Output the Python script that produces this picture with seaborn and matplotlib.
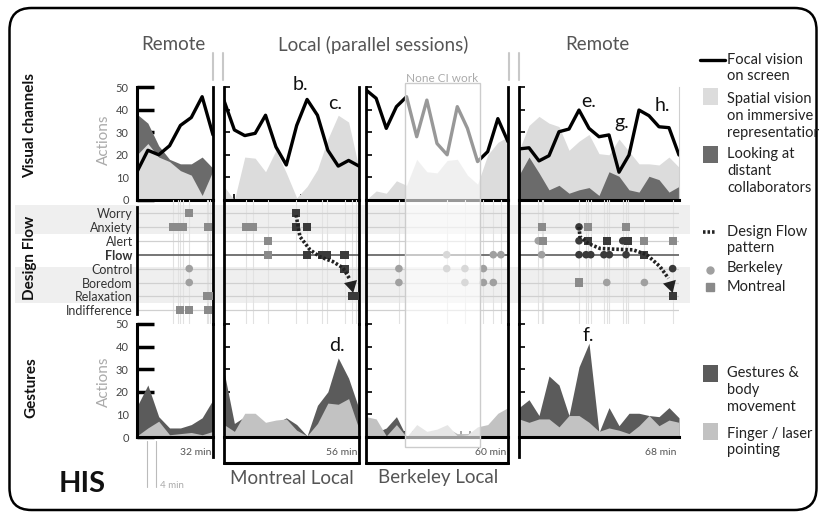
import numpy as np
import pandas as pd
import matplotlib
matplotlib.use("Agg")
import matplotlib.pyplot as plt
import seaborn as sns
from matplotlib.patches import Rectangle, FancyBboxPatch
from matplotlib.lines import Line2D

# ------------------------------------------------------------------ data
states = ["Worry", "Anxiety", "Alert", "Flow", "Control", "Boredom", "Relaxation", "Indifference"]
session_minutes = [32, 56, 60, 68]
duration_labels = ["32 min", "56 min", "60 min", "68 min"]
headers = ["Remote", "Local (parallel sessions)", "Remote"]
local_labels = ["Montreal Local", "Berkeley Local"]

# Visual channels (actions per interval)
focal_r1 = [12.5, 22, 20, 24, 33, 36.5, 45.7, 28.8]
spatial_r1 = [20, 25, 19, 17, 13, 11, 2, 13]
distant_r1 = [38, 34, 24, 18, 16, 16, 19, 14]

focal_ml = [44, 31, 28.5, 29.5, 37.5, 23.5, 15.5, 33, 44.5, 37.5, 22, 15, 17.5, 15]
spatial_ml = [6, 0, 19, 18.5, 12.5, 22, 12, 1, 6, 13.5, 27, 37.5, 34.5, 14]
distant_ml = [0, 0, 0, 0, 0, 0, 0, 0, 0, 0, 0, 0, 0, 0]

focal_bl = [48.7, 45, 31.7, 41.3, 45.7, 28, 44.2, 25, 20, 41.3, 31.7, 17, 21.4, 36, 25.8]
spatial_bl = [0, 4, 3, 8.5, 6.5, 18, 12.5, 12, 17.5, 18, 11, 7, 20, 25.5, 28]
distant_bl = [0, 0, 0, 0, 0, 0, 0, 0, 0, 0, 0, 0, 0, 0, 0]

focal_r2 = [22.6, 23.1, 17.3, 19.6, 30.2, 31.4, 39.8, 31.7, 28, 28.8, 12.3, 19.9, 39.8, 37.3, 32.4, 32, 19.9]
spatial_r2 = [22, 33, 37, 34, 32.5, 22, 26, 29, 20.5, 20, 27, 21.5, 16, 16, 15.5, 19, 14.5]
distant_r2 = [11, 19, 12, 4.5, 6.5, 3, 4.5, 5.5, 2, 12.5, 10.5, 4.5, 3.5, 10.5, 9, 3.5, 6]

# Gestures (actions per interval)
gest_r1 = [13.5, 23, 9, 4, 4, 5.5, 8.5, 16.5]
point_r1 = [0.5, 4, 7, 1, 1.5, 2, 1, 2.5]
gest_ml = [29, 6, 9, 9, 5, 6, 8.5, 5.5, 0.5, 14, 20, 35, 26, 12.5]
point_ml = [5.5, 2.5, 10.5, 10.5, 6.5, 7.5, 8, 3, 0.5, 6, 15, 14.5, 17, 3.5]
gest_bl = [6, 2, 4, 9, 0, 3, 2, 2, 4, 1.5, 1.5, 3, 4, 8, 10]
point_bl = [9, 8, 0.5, 5.5, 0, 5.5, 2.5, 3.5, 5.5, 0.5, 1, 4.5, 5.5, 10.5, 13]
gest_r2 = [13, 16.5, 9.5, 27, 23, 9.5, 31, 41.5, 2, 13, 5, 10.5, 10.5, 9.5, 9, 13, 8.5]
point_r2 = [8, 6.5, 8, 8, 4.5, 9.5, 9.5, 6.5, 2.5, 4, 3, 1.5, 5, 9.5, 5, 7.5, 6.5]

# Design flow events: (minute, state, site, part of design-flow pattern)
flow_r1 = [(22, "Worry", "Montreal", 0),
           (15.3, "Anxiety", "Montreal", 0), (17.4, "Anxiety", "Montreal", 0), (19.2, "Anxiety", "Montreal", 0),
           (30, "Anxiety", "Montreal", 0),
           (22, "Control", "Berkeley", 0), (22, "Boredom", "Berkeley", 0),
           (29.3, "Relaxation", "Montreal", 0), (30.7, "Relaxation", "Montreal", 0),
           (18.1, "Indifference", "Montreal", 0), (22, "Indifference", "Montreal", 0), (30, "Indifference", "Montreal", 0)]
flow_ml = [(29.9, "Worry", "Montreal", 1),
           (9.1, "Anxiety", "Montreal", 0), (11.9, "Anxiety", "Montreal", 0),
           (29.9, "Anxiety", "Montreal", 1), (34.3, "Anxiety", "Montreal", 1),
           (18.4, "Alert", "Montreal", 0),
           (18.4, "Flow", "Montreal", 0), (34.3, "Flow", "Montreal", 1), (40.5, "Flow", "Montreal", 1),
           (42.6, "Flow", "Montreal", 1), (50, "Flow", "Montreal", 1),
           (50, "Control", "Montreal", 1),
           (53.0, "Relaxation", "Montreal", 1), (54.6, "Relaxation", "Montreal", 1)]
flow_bl = [(34.1, "Flow", "Berkeley", 0), (53.8, "Flow", "Berkeley", 0), (57.0, "Flow", "Berkeley", 0),
           (13.9, "Control", "Berkeley", 0), (34.1, "Control", "Berkeley", 0), (41.8, "Control", "Berkeley", 0),
           (49.6, "Control", "Berkeley", 0),
           (13.9, "Boredom", "Berkeley", 0), (41.8, "Boredom", "Berkeley", 0), (49.6, "Boredom", "Berkeley", 0),
           (53.8, "Boredom", "Berkeley", 0)]
flow_r2 = [(9.6, "Anxiety", "Montreal", 0), (25.5, "Anxiety", "Berkeley", 1), (29.5, "Anxiety", "Montreal", 0),
           (45.5, "Anxiety", "Montreal", 0),
           (8.2, "Alert", "Berkeley", 0), (10.3, "Alert", "Montreal", 0), (25.5, "Alert", "Berkeley", 1),
           (29.5, "Alert", "Montreal", 1), (37.3, "Alert", "Montreal", 1), (44.1, "Alert", "Berkeley", 1),
           (46.5, "Alert", "Montreal", 1), (53.3, "Alert", "Montreal", 0), (65.3, "Alert", "Montreal", 0),
           (9.6, "Flow", "Berkeley", 0), (25.5, "Flow", "Berkeley", 1), (28.5, "Flow", "Berkeley", 1),
           (30.5, "Flow", "Berkeley", 1), (36.1, "Flow", "Berkeley", 1), (38.4, "Flow", "Berkeley", 1),
           (45.5, "Flow", "Berkeley", 1), (53.3, "Flow", "Montreal", 1),
           (65.3, "Control", "Berkeley", 1),
           (25.5, "Boredom", "Montreal", 0), (37.3, "Boredom", "Berkeley", 0), (53.3, "Boredom", "Berkeley", 0),
           (65.3, "Relaxation", "Montreal", 1)]

# Design-flow pattern paths (minute, state row)
pattern_ml_min = [29.9, 31.5, 35.7, 39.8, 45.2, 49.4, 52.3, 53.6]
pattern_ml_row = [0.15, 1.7, 2.65, 3.15, 3.5, 3.95, 4.8, 5.75]
pattern_r2_min = [25.5, 25.9, 29.5, 34.4, 40.0, 48.5, 54.3, 59.9, 63.5, 65.3]
pattern_r2_row = [1.0, 1.7, 2.2, 2.55, 2.6, 2.65, 3.0, 3.85, 4.7, 5.75]

none_ci_span = (16.5, 48.2)   # Berkeley minutes of "None CI work"

# callouts: (session index, row ('vis'/'ges'), minute, value, text)
callouts = [(1, "vis", 31.5, 51, "b."), (1, "vis", 46, 42.5, "c."), (1, "ges", 47, 40.7, "d."),
            (3, "vis", 29.8, 43.8, "e."), (3, "ges", 29.3, 45, "f."), (3, "vis", 43.6, 34.5, "g."),
            (3, "vis", 61, 41.6, "h.")]

sessions = [
    dict(T=32, focal=focal_r1, spatial=spatial_r1, distant=distant_r1, gest=gest_r1, point=point_r1, flow=flow_r1),
    dict(T=56, focal=focal_ml, spatial=spatial_ml, distant=distant_ml, gest=gest_ml, point=point_ml, flow=flow_ml),
    dict(T=60, focal=focal_bl, spatial=spatial_bl, distant=distant_bl, gest=gest_bl, point=point_bl, flow=flow_bl),
    dict(T=68, focal=focal_r2, spatial=spatial_r2, distant=distant_r2, gest=gest_r2, point=point_r2, flow=flow_r2),
]

# ------------------------------------------------------------------ style
sns.set_theme(style="white")
plt.rcParams["font.family"] = ["Lato", "DejaVu Sans"]

C_SPATIAL = "#dcdcdc"
C_DISTANT = "#6b6b6b"
C_GEST = "#5b5b5b"
C_POINT = "#c2c2c2"
C_MED_SQ = "#8a8a8a"
C_MED_CI = "#a0a0a0"
C_DARK = "#3a3a3a"
C_TXT = "#555555"

W, H = 820, 518
fig = plt.figure(figsize=(W / 100, H / 100), dpi=100)


def rect(x0, x1, ytop, ybot):
    return [x0 / W, 1 - ybot / H, (x1 - x0) / W, (ybot - ytop) / H]


def fx(px):
    return px / W


def fy(py):
    return 1 - py / H


cols_px = [(137, 213), (224, 359), (366, 508), (519, 679)]
VIS_TOP, VIS_BOT = 87, 200
FLOW_BOT = 324
GES_ZERO = 437
ges_bottom = [457, 463, 463, 457]
ROW_PX = 13.9


def overlap_fill(ax, x, dark, light, cd, cl, smaller_front=True):
    d = np.asarray(dark, float)
    l = np.asarray(light, float)
    ax.fill_between(x, 0, d, color=cd, lw=0)
    ax.fill_between(x, 0, l, color=cl, lw=0)
    if smaller_front:
        ax.fill_between(x, 0, d, where=d <= l, interpolate=True, color=cd, lw=0)


ax_vis, ax_flow, ax_ges = [], [], []
for ci, (sess, (x0, x1)) in enumerate(zip(sessions, cols_px)):
    T = sess["T"]
    # ---------------- visual channels
    av = fig.add_axes(rect(x0, x1, VIS_TOP, VIS_BOT))
    xv = np.linspace(0, T, len(sess["focal"]))
    overlap_fill(av, xv, sess["distant"], sess["spatial"], C_DISTANT, C_SPATIAL, True)
    sns.lineplot(x=xv, y=sess["focal"], ax=av, color="black", lw=2.4)
    av.set_xlim(0, T)
    av.set_ylim(0, 50)
    av.set(xlabel="", ylabel="")
    av.set_xticks(np.arange(4, T, 4))
    av.set_xticklabels([])
    av.tick_params(axis="x", direction="in", length=4, width=1.2, color="black", bottom=True)
    for s in av.spines.values():
        s.set_visible(False)
    av.spines["bottom"].set_visible(True)
    av.spines["bottom"].set_linewidth(2.2)
    av.spines["bottom"].set_color("black")
    av.spines["left"].set_visible(True)
    av.spines["left"].set_linewidth(2 if ci != 0 else 2.2)
    av.spines["left"].set_color("black")
    if ci in (0, 1, 2):
        av.spines["right"].set_visible(True)
        av.spines["right"].set_linewidth(2)
        av.spines["right"].set_color("black")
    else:
        av.spines["right"].set_visible(True)
        av.spines["right"].set_linewidth(0.8)
        av.spines["right"].set_color("#cfcfcf")
    av.set_yticks([0, 10, 20, 30, 40, 50])
    if ci == 0:
        av.tick_params(axis="y", direction="in", length=12, width=2.5, color="black", left=True,
                       labelsize=8, labelcolor="#444", pad=6)
    else:
        av.tick_params(axis="y", direction="in", length=4, width=1.2, color="black", left=True, labelleft=False)
    av.patch.set_alpha(0)
    ax_vis.append(av)

    # ---------------- design flow
    af = fig.add_axes(rect(x0, x1, VIS_BOT, FLOW_BOT))
    af.patch.set_alpha(0)
    df = pd.DataFrame(sess["flow"], columns=["minute", "state", "site", "pattern"])
    df["row"] = df["state"].map({s: i for i, s in enumerate(states)})
    for xm in sorted(df["minute"].unique()):
        af.axvline(xm, color="#e2e2e2", lw=0.8, zorder=0.2)
    for i, s in enumerate(states):
        if s == "Flow":
            af.axhline(i, color="#6a6a6a", lw=1.3, zorder=0.5)
        else:
            af.axhline(i, color="#d0d0d0", lw=0.9, zorder=0.5)
    for (site, pat), sub in df.groupby(["site", "pattern"]):
        if site == "Berkeley":
            mk, sz, col = "o", 30, (C_DARK if pat else C_MED_CI)
        else:
            mk, sz, col = "s", 34, (C_DARK if pat else C_MED_SQ)
        sns.scatterplot(data=sub, x="minute", y="row", ax=af, marker=mk, s=sz, color=col,
                        edgecolor="none", legend=False, zorder=3)
    af.set_xlim(0, T)
    af.set_ylim(7 + (FLOW_BOT - VIS_BOT - 13 - 7 * ROW_PX) / ROW_PX, -13 / ROW_PX)
    af.set(xlabel="", ylabel="")
    af.set_xticks([])
    for s in af.spines.values():
        s.set_visible(False)
    if ci == 0:
        af.set_yticks(range(len(states)))
        af.set_yticklabels(states)
        af.tick_params(axis="y", length=0, labelsize=9, labelcolor="#333", pad=3)
        for lab in af.get_yticklabels():
            if lab.get_text() == "Flow":
                lab.set_fontweight("bold")
        af.spines["left"].set_visible(True)
        af.spines["left"].set_bounds(7.25, -0.4)
        af.spines["left"].set_linewidth(2)
        af.spines["left"].set_color("black")
    else:
        af.set_yticks([])
        af.spines["left"].set_visible(True)
        af.spines["left"].set_linewidth(2)
        af.spines["left"].set_color("black")
    if ci in (0, 1, 2):
        af.spines["right"].set_visible(True)
        af.spines["right"].set_linewidth(2)
        af.spines["right"].set_color("black")
    ax_flow.append(af)

    # ---------------- gestures
    ag = fig.add_axes(rect(x0, x1, FLOW_BOT, ges_bottom[ci]))
    xg = np.linspace(0, T, len(sess["gest"]))
    overlap_fill(ag, xg, sess["gest"], sess["point"], C_GEST, C_POINT, False)
    ag.set_xlim(0, T)
    ag.set_ylim(-(ges_bottom[ci] - GES_ZERO) / (GES_ZERO - FLOW_BOT) * 50, 50)
    ag.set_xticks(np.arange(4, T, 4))
    ag.set_xticklabels([])
    for s in ag.spines.values():
        s.set_visible(False)
    ag.spines["bottom"].set_visible(True)
    ag.spines["bottom"].set_position(("data", 0))
    ag.spines["bottom"].set_linewidth(2.2)
    ag.spines["bottom"].set_color("black")
    ag.tick_params(axis="x", direction="in", length=4, width=1.2, color="black", bottom=True)
    ag.spines["left"].set_visible(True)
    ag.spines["left"].set_color("black")
    ag.spines["left"].set_linewidth(2 if ci != 0 else 2.2)
    ag.set_yticks([0, 10, 20, 30, 40, 50])
    if ci == 0:
        ag.spines["left"].set_bounds(0, 50)
        ag.tick_params(axis="y", direction="in", length=12, width=2.5, color="black", left=True,
                       labelsize=8, labelcolor="#444", pad=6)
    else:
        ag.tick_params(axis="y", direction="in", length=4, width=1.2, color="black", left=True, labelleft=False)
    if ci in (0, 1, 2):
        ag.spines["right"].set_visible(True)
        ag.spines["right"].set_linewidth(2)
        ag.spines["right"].set_color("black")
    if ci in (1, 2):
        ag.plot([0, 1], [0, 0], transform=ag.transAxes, color="black", lw=2.2, clip_on=False)
    ag.text(T * 0.985, -7.0, duration_labels[ci], ha="right", va="center", fontsize=7.5, color="#555",
            family=["Liberation Sans Narrow", "Lato", "DejaVu Sans"])
    ag.patch.set_alpha(0)
    ax_ges.append(ag)

# ---------------- design flow patterns (dotted arrows)
for ax, pm, pr in [(ax_flow[1], pattern_ml_min, pattern_ml_row), (ax_flow[3], pattern_r2_min, pattern_r2_row)]:
    ax.plot(pm[:-1], pr[:-1], color="#222", lw=2.6, ls=(0, (0.7, 0.55)), zorder=4, solid_capstyle="butt")
    ax.annotate("", xy=(pm[-1], pr[-1]), xytext=(pm[-2], pr[-2]),
                arrowprops=dict(arrowstyle="-|>,head_length=0.7,head_width=0.4", color="#222", lw=0,
                                shrinkA=0, shrinkB=0), zorder=5)

# ---------------- callouts
for si, row, m, v, t in callouts:
    ax = ax_vis[si] if row == "vis" else ax_ges[si]
    ax.text(m, v, t, ha="center", va="center", fontsize=14, color="#111", clip_on=False, zorder=6)

# ---------------- grey bands behind design flow rows
fig.canvas.draw()
inv = fig.transFigure.inverted()
for r0, r1 in [(-0.58, 1.5), (3.9, 6.5)]:
    ya = inv.transform(ax_flow[0].transData.transform((0, r0)))[1]
    yb = inv.transform(ax_flow[0].transData.transform((0, r1)))[1]
    fig.add_artist(Rectangle((fx(15), yb), fx(690) - fx(15), ya - yb, transform=fig.transFigure,
                             facecolor="#efefef", edgecolor="none", zorder=-1))

# ---------------- None CI work overlay (Berkeley)
xa = inv.transform(ax_vis[2].transData.transform((none_ci_span[0], 0)))[0]
xb = inv.transform(ax_vis[2].transData.transform((none_ci_span[1], 0)))[0]
fig.add_artist(Rectangle((xa, fy(447)), xb - xa, fy(83) - fy(447), transform=fig.transFigure,
                         facecolor=(1, 1, 1, 0.6), edgecolor="#cccccc", lw=1, zorder=5))
fig.text((xa + xb) / 2, fy(78), "None CI work", ha="center", va="center", fontsize=8.5, color="#aaaaaa")

# ---------------- headers and labels
fig.text(fx(173), fy(44), headers[0], ha="center", va="center", fontsize=13.5, color=C_TXT)
fig.text(fx(373), fy(45), headers[1], ha="center", va="center", fontsize=13.5, color=C_TXT)
fig.text(fx(597), fy(44), headers[2], ha="center", va="center", fontsize=13.5, color=C_TXT)
fig.text(fx(292), fy(478), local_labels[0], ha="center", va="center", fontsize=13.5, color=C_TXT)
fig.text(fx(438), fy(478), local_labels[1], ha="center", va="center", fontsize=13.5, color=C_TXT)
for xs in (213, 223, 509, 519):
    fig.add_artist(Line2D([fx(xs), fx(xs)], [fy(53), fy(80)], color="#c8c8c8", lw=1.5))

fig.text(fx(30), fy(125), "Visual channels", rotation=90, ha="center", va="center", fontsize=11,
         fontweight="bold", color="#111")
fig.text(fx(30), fy(258), "Design Flow", rotation=90, ha="center", va="center", fontsize=11,
         fontweight="bold", color="#111")
fig.text(fx(31), fy(388), "Gestures", rotation=90, ha="center", va="center", fontsize=11,
         fontweight="bold", color="#111")
fig.text(fx(104), fy(140), "Actions", rotation=90, ha="center", va="center", fontsize=11, color="#aaaaaa")
fig.text(fx(104), fy(382), "Actions", rotation=90, ha="center", va="center", fontsize=11, color="#aaaaaa")
fig.text(fx(82), fy(484), "HIS", ha="center", va="center", fontsize=21, fontweight="bold", color="#111")

# 4-minute scale marker
for m in (4, 8):
    xp = inv.transform(ax_ges[0].transData.transform((m, 0)))[0]
    fig.add_artist(Line2D([xp, xp], [fy(441), fy(487)], color="#bbbbbb", lw=0.8))
fig.text(fx(160), fy(486), "4 min", ha="left", va="center", fontsize=7, color="#aaaaaa")

# ---------------- legend (manual, right side)
LX = fx(727)
LFS = 10.5


def ltext(py, s):
    fig.text(LX, fy(py), s, ha="left", va="center", fontsize=LFS, color="#222", linespacing=1.25)


fig.add_artist(Line2D([fx(700), fx(725)], [fy(60), fy(60)], color="black", lw=2.4))
ltext(68, "Focal vision\non screen")
fig.add_artist(Rectangle((fx(703), fy(105)), 15 / W, 17 / H, transform=fig.transFigure,
                         facecolor=C_SPATIAL, edgecolor="none"))
ltext(116, "Spatial vision\non immersive\nrepresentation")
fig.add_artist(Rectangle((fx(703), fy(163)), 15 / W, 17 / H, transform=fig.transFigure,
                         facecolor=C_DISTANT, edgecolor="none"))
ltext(171, "Looking at\ndistant\ncollaborators")
fig.add_artist(Line2D([fx(703), fx(716)], [fy(232), fy(232)], color="#222", lw=2.6, ls=(0, (0.7, 0.55))))
ltext(240, "Design Flow\npattern")
fig.add_artist(Line2D([fx(710)], [fy(270)], marker="o", ms=5, color=C_MED_CI, ls="none"))
ltext(268, "Berkeley")
fig.add_artist(Line2D([fx(710)], [fy(287)], marker="s", ms=5.5, color=C_MED_SQ, ls="none"))
ltext(287, "Montreal")
fig.add_artist(Rectangle((fx(703), fy(382)), 15 / W, 17 / H, transform=fig.transFigure,
                         facecolor=C_GEST, edgecolor="none"))
ltext(390, "Gestures &\nbody\nmovement")
fig.add_artist(Rectangle((fx(703), fy(440)), 15 / W, 17 / H, transform=fig.transFigure,
                         facecolor=C_POINT, edgecolor="none"))
ltext(442, "Finger / laser\npointing")

# ---------------- rounded frame
fig.add_artist(FancyBboxPatch((0.095, 0.08), 8.07, 5.02, boxstyle="round,pad=0,rounding_size=0.22",
                              transform=fig.dpi_scale_trans, fill=False, edgecolor="black", lw=1.8))

fig.savefig("out.png", dpi=100, facecolor="white")
